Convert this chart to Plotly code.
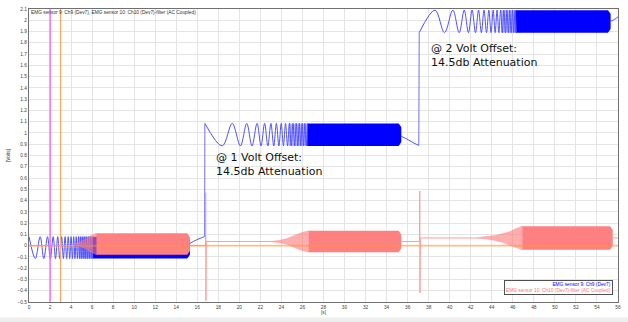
import plotly.graph_objects as go

# ---------------- data ----------------
x_range = [0, 56]
y_range = [-0.5, 2.1]

# blue trace: EMG sensor 9 – chirp segments at 0 V, 1 V and 2 V offset
blue_hi = [0.08, 1.085, 2.09]
blue_lo = [-0.115, 0.885, 1.89]
blue_starts_high = [True, True, False]
blue_turn_t1 = [0.00, 0.60, 1.06, 1.41, 1.76, 2.03, 2.30, 2.52, 2.73, 2.92, 3.10, 3.27,
                3.43, 3.58, 3.73, 3.87, 4.00, 4.13, 4.25, 4.37, 4.49, 4.60, 4.71, 4.82,
                4.92, 5.02, 5.12, 5.22, 5.31, 5.40, 5.49, 5.58, 5.67, 5.75, 5.83, 5.91,
                5.99, 6.07]
blue_turn_t2 = [16.72, 18.37, 19.32, 20.10, 20.70, 21.20, 21.68, 22.06, 22.40, 22.71,
                23.00, 23.27, 23.52, 23.76, 23.98, 24.19, 24.39, 24.58, 24.76, 24.93,
                25.10, 25.26, 25.41, 25.56, 25.70, 25.84, 25.97, 26.10, 26.23, 26.35,
                26.47]
blue_turn_t3 = [37.10, 38.60, 39.50, 40.30, 40.90, 41.38, 41.78, 42.13, 42.45, 42.74,
                43.01, 43.26, 43.50, 43.72, 43.93, 44.13, 44.32, 44.50, 44.67, 44.84,
                45.00, 45.15, 45.30, 45.44, 45.58, 45.71, 45.84, 45.97, 46.09, 46.21,
                46.33]
blue_semi_start = [4.7, 24.7, 44.9]
blue_band_start = [6.05, 26.45, 46.25]
blue_band_end = [15.3, 35.4, 55.3]
blue_tail_t = [[15.3, 15.9, 16.4, 16.7], [35.4, 36.05, 36.6, 37.06], [55.3, 55.7, 56.0]]
blue_tail_v = [[0.02, 0.05, 0.07, 0.08], [0.97, 0.94, 0.91, 0.89], [1.99, 2.01, 2.03]]
step_t0 = [16.70, 37.06]
step_t1 = [16.72, 37.10]
step_v0 = [0.08, 0.89]
step_v1 = [1.085, 1.89]

# pink trace: EMG sensor 10 – filtered (AC coupled)
pink_center = [0.015, 0.037, 0.068]
pink_wedge_t = [[4.4, 4.9, 5.4, 5.8, 6.1, 6.4],
                [23.0, 23.7, 24.4, 25.0, 25.5, 25.95, 26.6],
                [42.5, 43.5, 44.3, 45.0, 45.7, 46.2, 46.9]]
pink_wedge_a = [[0.0, 0.02, 0.045, 0.07, 0.085, 0.095],
                [0.003, 0.008, 0.022, 0.044, 0.062, 0.08, 0.095],
                [0.003, 0.01, 0.022, 0.038, 0.056, 0.08, 0.105]]
pink_band_end = [15.3, 35.4, 55.5]
pink_line_t = [0.0, 4.4, None, 15.3, 16.78, 16.80, 16.82, 16.86, 23.0, None,
               35.4, 37.13, 37.15, 37.17, 37.21, 42.5, None, 55.5, 56.0]
pink_line_v = [0.0, 0.0, None, 0.0, 0.0, 0.47, -0.49, 0.037, 0.037, None,
               0.037, 0.037, 0.485, -0.42, 0.068, 0.068, None, 0.068, 0.068]

marker_t = [2, 3]
marker_colors = ["#ff55ff", "#ffa860"]

title_text = "EMG sensor 9: Ch9 (Dev7), EMG sensor 10: Ch10 (Dev7)-filter (AC Coupled)"
legend_names = ["EMG sensor 9: Ch9 (Dev7)", "EMG sensor 10: Ch10 (Dev7)-filter (AC Coupled)"]
note_t = [17.6, 38.0]
note_v = [0.716, 1.684]
note_text = ["@ 1 Volt Offset:<br>14.5db Attenuation", "@ 2 Volt Offset:<br>14.5db Attenuation"]

BLUE = "#0000ff"
PINK = "#ff8080"

# ---------------- build ----------------
fig = go.Figure()

# blue semi-dense transition (translucent) bands
tx, ty = [], []
for t0, t1, hi, lo in zip(blue_semi_start, blue_band_start, blue_hi, blue_lo):
    tx += [t0, t0, t1, t1, t0, None]
    ty += [lo, hi, hi, lo, lo, None]
fig.add_trace(go.Scatter(x=tx, y=ty, mode="lines", fill="toself",
                         fillcolor="rgba(0,0,255,0.28)",
                         line=dict(width=0, color=BLUE), hoverinfo="skip"))

# blue dense bands
bx, by = [], []
for t0, t1, hi, lo in zip(blue_band_start, blue_band_end, blue_hi, blue_lo):
    bx += [t0, t0, t1 - 0.25, t1, t1, t1 - 0.25, t0, None]
    by += [lo, hi, hi, hi - 0.035, lo + 0.035, lo, lo, None]
fig.add_trace(go.Scatter(x=bx, y=by, mode="lines", fill="toself", fillcolor=BLUE,
                         line=dict(width=0, color=BLUE), hoverinfo="skip"))

# blue sparse oscillation (through turning points) and tails
lx, ly = [], []
for seg_t, hi, lo, sh in zip([blue_turn_t1, blue_turn_t2, blue_turn_t3], blue_hi, blue_lo, blue_starts_high):
    for i, t in enumerate(seg_t):
        lx.append(t)
        ly.append(hi if ((i % 2 == 0) == sh) else lo)
    lx.append(None); ly.append(None)
for tt, vv in zip(blue_tail_t, blue_tail_v):
    lx += tt + [None]; ly += vv + [None]
fig.add_trace(go.Scatter(x=lx, y=ly, mode="lines", connectgaps=False,
                         line=dict(color="#5050ff", width=1, shape="spline", smoothing=1),
                         hoverinfo="skip"))

# steps
sx, sy = [], []
for a, b, c, d in zip(step_t0, step_t1, step_v0, step_v1):
    sx += [a, b, None]; sy += [c, d, None]
fig.add_trace(go.Scatter(x=sx, y=sy, mode="lines", line=dict(color="#7070ff", width=1),
                         hoverinfo="skip"))

# pink wedges
wx, wy = [], []
for tt, aa, c in zip(pink_wedge_t, pink_wedge_a, pink_center):
    wx += tt + tt[::-1] + [None]
    wy += [c + a for a in aa] + [c - a for a in aa[::-1]] + [None]
fig.add_trace(go.Scatter(x=wx, y=wy, mode="lines", fill="toself",
                         fillcolor="rgba(255,120,120,0.6)",
                         line=dict(width=0.5, color="rgba(255,120,120,0.6)"), hoverinfo="skip"))

# pink dense bands
px_, py_ = [], []
for tt, aa, c, t1 in zip(pink_wedge_t, pink_wedge_a, pink_center, pink_band_end):
    t0 = tt[-1]; a = aa[-1]
    top, bot = c + a, c - a
    px_ += [t0, t0, t1 - 0.25, t1, t1, t1 - 0.25, t0, None]
    py_ += [bot, top, top, top - 0.035, bot + 0.035, bot, bot, None]
fig.add_trace(go.Scatter(x=px_, y=py_, mode="lines", fill="toself", fillcolor=PINK,
                         line=dict(width=0, color=PINK), hoverinfo="skip"))

# pink baseline + spikes
fig.add_trace(go.Scatter(x=pink_line_t, y=pink_line_v, mode="lines", connectgaps=False,
                         line=dict(color="#ff9c9c", width=1), hoverinfo="skip"))

# zero line and cursor lines
fig.add_shape(type="line", xref="paper", x0=0, x1=1, yref="y", y0=0, y1=0,
              line=dict(color="rgba(255,150,60,0.45)", width=2), layer="above")
for t, col in zip(marker_t, marker_colors):
    fig.add_shape(type="line", xref="x", x0=t, x1=t, yref="paper", y0=0, y1=1,
                  line=dict(color=col, width=1.3), layer="above")

# bottom gray strip
fig.add_shape(type="rect", xref="paper", yref="paper", x0=-0.06, x1=1.02,
              y0=-0.0700, y1=-0.0525, fillcolor="#eeeeee", line=dict(width=0), layer="below")

small = dict(family="Liberation Sans, Arial", size=4.8, color="#404040")

# title inside plot (top-left)
fig.add_annotation(xref="paper", yref="paper", x=0, y=1, xanchor="left", yanchor="top",
                   text=title_text, showarrow=False,
                   font=dict(family="Liberation Sans, Arial", size=4.8, color="#303030"),
                   yshift=1)

# notes
for t, v, txt in zip(note_t, note_v, note_text):
    fig.add_annotation(x=t, y=v, xref="x", yref="y", xanchor="left", yanchor="middle",
                       text=txt, showarrow=False, align="left",
                       font=dict(family="DejaVu Sans", size=11, color="#111111"))

# legend box
fig.add_annotation(xref="paper", yref="paper", x=(616 - 29) / 592, y=(301.7 - 295) / 295,
                   xanchor="right", yanchor="bottom", align="right", showarrow=False,
                   text=f"<span style='color:{BLUE}'>{legend_names[0]}</span><br>"
                        f"<span style='color:#ff7070'>{legend_names[1]}</span>",
                   font=dict(family="Liberation Sans, Arial", size=4.8),
                   bgcolor="white", bordercolor="#505050", borderwidth=1, borderpad=1)

fig.update_layout(
    width=628, height=322,
    margin=dict(l=29, r=7, t=7, b=20),
    paper_bgcolor="white", plot_bgcolor="white",
    showlegend=False,
    xaxis=dict(range=x_range, dtick=2, tick0=0, showgrid=True, gridcolor="#e4e4e4",
               gridwidth=1, zeroline=False, showline=True, linecolor="#707070",
               linewidth=1, mirror=True, ticks="", tickfont=small,
               title=dict(text="[s]", font=small, standoff=1)),
    yaxis=dict(range=y_range, dtick=0.1, tick0=0, showgrid=True, gridcolor="#e4e4e4",
               gridwidth=1, zeroline=False, showline=True, linecolor="#707070",
               linewidth=1, mirror=True, ticks="", tickfont=small,
               title=dict(text="[Volts]", font=small, standoff=6)),
)

fig.write_html("out.html")
